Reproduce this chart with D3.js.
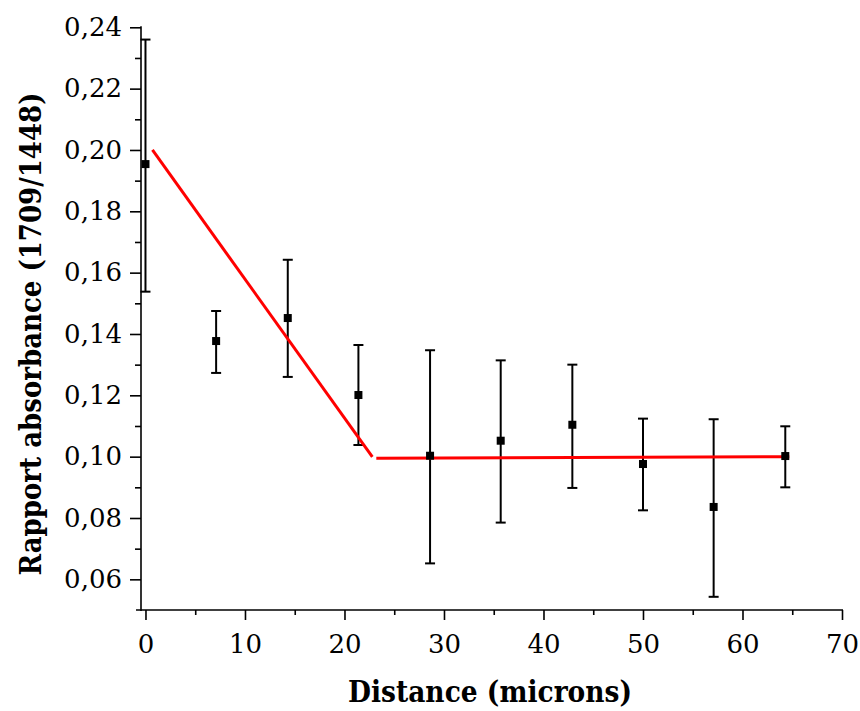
<!DOCTYPE html>
<html>
<head>
<meta charset="utf-8">
<script src="https://cdn.jsdelivr.net/npm/d3@7"></script>
<style>
  html, body { margin: 0; padding: 0; background: #fff; }
  svg { display: block; }
</style>
</head>
<body>
<svg id="chart" width="860" height="711"></svg>
<script>
// ---- data ----
const distance = [0, 7.1, 14.3, 21.4, 28.6, 35.7, 42.9, 50.0, 57.1, 64.3];
const ratio    = [0.1954, 0.1377, 0.1452, 0.1201, 0.1003, 0.1052, 0.1104, 0.0976, 0.0836, 0.1002];
const errTop   = [0.2360, 0.1475, 0.1642, 0.1364, 0.1347, 0.1314, 0.1300, 0.1124, 0.1122, 0.1099];
const errBot   = [0.1538, 0.1273, 0.1260, 0.1038, 0.0652, 0.0785, 0.0898, 0.0825, 0.0543, 0.0900];
const fitSeg1X = [0.7, 22.8];
const fitSeg1Y = [0.2000, 0.0999];
const fitSeg2X = [23.2, 64.7];
const fitSeg2Y = [0.0995, 0.1000];
const xMajorTicks = [0, 10, 20, 30, 40, 50, 60, 70];
const xMinorTicks = [5, 15, 25, 35, 45, 55, 65];
const yMajorTicks = [0.06, 0.08, 0.10, 0.12, 0.14, 0.16, 0.18, 0.20, 0.22, 0.24];
const yMinorTicks = [0.07, 0.09, 0.11, 0.13, 0.15, 0.17, 0.19, 0.21, 0.23];
const xTitle = "Distance (microns)";
const yTitle = "Rapport absorbance (1709/1448)";

// ---- layout ----
const svg = d3.select("#chart");
const x = d3.scaleLinear().domain([-0.45, 70]).range([141, 842]);
const y = d3.scaleLinear().domain([0.05, 0.24]).range([610, 27.3]);
const fmt = v => d3.format(".2f")(v).replace(".", ",");
const SERIF = '"DejaVu Serif", serif';

// x axis
const xAxisG = svg.append("g").attr("transform", "translate(0,610)");
xAxisG.call(d3.axisBottom(x).tickValues(xMajorTicks).tickSize(10).tickSizeOuter(0).tickPadding(15).tickFormat(d3.format("d")));
xAxisG.append("g").call(d3.axisBottom(x).tickValues(xMinorTicks).tickSize(5).tickSizeOuter(0).tickFormat(""))
  .select(".domain").remove();
xAxisG.select(".domain").remove();
xAxisG.attr("font-family", SERIF);
xAxisG.append("line").attr("x1", 136).attr("x2", x(70) + 1).attr("y1", 0).attr("y2", 0)
  .attr("stroke", "#000").attr("stroke-width", 1.6);
xAxisG.selectAll(".tick line").attr("stroke", "#000").attr("stroke-width", 1.6);
xAxisG.selectAll(".tick text").attr("font-size", 26).attr("fill", "#000");

// y axis
const yAxisG = svg.append("g").attr("transform", "translate(141,0)");
yAxisG.call(d3.axisLeft(y).tickValues(yMajorTicks).tickSize(11).tickSizeOuter(0).tickPadding(8).tickFormat(fmt));
yAxisG.append("g").call(d3.axisLeft(y).tickValues(yMinorTicks).tickSize(6).tickSizeOuter(0).tickFormat(""))
  .select(".domain").remove();
yAxisG.select(".domain").remove();
yAxisG.attr("font-family", SERIF);
yAxisG.append("line").attr("x1", 0).attr("x2", 0).attr("y1", y(0.24) - 1).attr("y2", 611)
  .attr("stroke", "#000").attr("stroke-width", 1.6);
yAxisG.selectAll(".tick line").attr("stroke", "#000").attr("stroke-width", 1.6);
yAxisG.selectAll(".tick text").attr("font-size", 26).attr("fill", "#000");

// error bars
const pts = distance.map((d, i) => ({ x: d, y: ratio[i], t: errTop[i], b: errBot[i] }));
const eb = svg.append("g").attr("stroke", "#000").attr("stroke-width", 2);
eb.selectAll(".v").data(pts).join("line")
  .attr("x1", d => x(d.x)).attr("x2", d => x(d.x))
  .attr("y1", d => y(d.t)).attr("y2", d => y(d.b));
eb.selectAll(".ct").data(pts).join("line")
  .attr("x1", d => x(d.x) - 5).attr("x2", d => x(d.x) + 5)
  .attr("y1", d => y(d.t)).attr("y2", d => y(d.t));
eb.selectAll(".cb").data(pts).join("line")
  .attr("x1", d => x(d.x) - 5).attr("x2", d => x(d.x) + 5)
  .attr("y1", d => y(d.b)).attr("y2", d => y(d.b));

// fit lines
const line = d3.line().x(d => x(d[0])).y(d => y(d[1]));
[[fitSeg1X, fitSeg1Y], [fitSeg2X, fitSeg2Y]].forEach(([xs, ys]) => {
  svg.append("path").attr("d", line(xs.map((v, i) => [v, ys[i]])))
    .attr("fill", "none").attr("stroke", "#ff0000").attr("stroke-width", 3);
});

// markers
svg.append("g").selectAll("rect").data(pts).join("rect")
  .attr("x", d => x(d.x) - 4).attr("y", d => y(d.y) - 4)
  .attr("width", 8).attr("height", 8).attr("fill", "#000");

// titles
svg.append("text").attr("x", 490).attr("y", 702).attr("text-anchor", "middle")
  .attr("font-family", SERIF).attr("font-size", 30).attr("font-weight", "bold")
  .attr("textLength", 284).attr("lengthAdjust", "spacingAndGlyphs").text(xTitle);
svg.append("text").attr("transform", "translate(41,334) rotate(-90)").attr("text-anchor", "middle")
  .attr("font-family", SERIF).attr("font-size", 30).attr("font-weight", "bold")
  .attr("textLength", 483).attr("lengthAdjust", "spacingAndGlyphs").text(yTitle);
</script>
</body>
</html>
